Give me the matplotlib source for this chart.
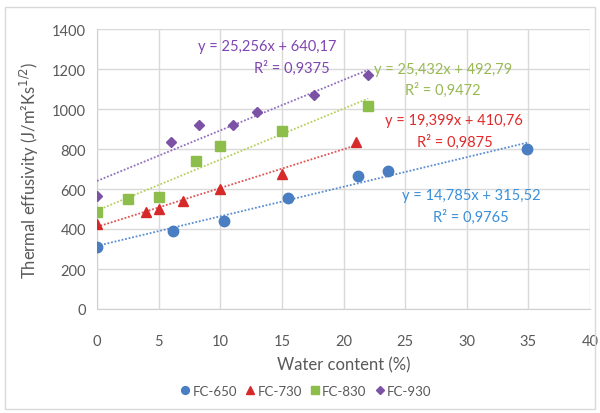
import matplotlib
matplotlib.use("Agg")
import matplotlib.pyplot as plt
import numpy as np
from matplotlib.patches import Rectangle

plt.rcParams['font.family'] = ['Lato', 'DejaVu Sans']

# Water content (%) and thermal effusivity for each sample series
fc650_x = [0, 6.2, 10.3, 15.5, 21.2, 23.6, 34.9]
fc650_y = [312, 388, 440, 555, 665, 690, 800]
fc730_x = [0, 4.0, 5.0, 7.0, 10.0, 15.0, 21.0]
fc730_y = [425, 485, 500, 540, 600, 675, 835]
fc830_x = [0, 2.5, 5.0, 8.0, 10.0, 15.0, 22.0]
fc830_y = [485, 552, 560, 742, 815, 888, 1015]
fc930_x = [0, 6.0, 8.3, 11.0, 13.0, 17.6, 22.0]
fc930_y = [565, 835, 920, 920, 985, 1068, 1172]

# Linear trendline coefficients (slope, intercept)
fits = {
    'FC-650': (14.785, 315.52),
    'FC-730': (19.399, 410.76),
    'FC-830': (25.432, 492.79),
    'FC-930': (25.256, 640.17),
}
eq_texts = {
    'FC-650': ('y = 14,785x + 315,52', 'R² = 0,9765'),
    'FC-730': ('y = 19,399x + 410,76', 'R² = 0,9875'),
    'FC-830': ('y = 25,432x + 492,79', 'R² = 0,9472'),
    'FC-930': ('y = 25,256x + 640,17', 'R² = 0,9375'),
}

series = [
    ('FC-650', fc650_x, fc650_y, 'o', '#4A7EC2', '#3A8FD8', 7.5),
    ('FC-730', fc730_x, fc730_y, '^', '#D62A2A', '#E02A2A', 7.5),
    ('FC-830', fc830_x, fc830_y, 's', '#8DBE4B', '#98B954', 7.5),
    ('FC-930', fc930_x, fc930_y, 'D', '#7B52A6', '#7F45B0', 5.5),
]
line_colors = {'FC-650': '#5B8ED0', 'FC-730': '#E05555',
               'FC-830': '#B8D060', 'FC-930': '#9070C0'}

fig = plt.figure(figsize=(6.0, 4.14), dpi=100)
ax = fig.add_axes([97/600, 1 - 310/414, 493/600, 280/414])

for name, xs, ys, mk, mcol, tcol, ms in series:
    ax.plot(xs, ys, linestyle='none', marker=mk, color=mcol, markersize=ms,
            label=name, zorder=4)
    m, b = fits[name]
    xl = np.array([0, max(xs)])
    ax.plot(xl, m * xl + b, linestyle=(0, (1, 1)), color=line_colors[name],
            linewidth=1.3, zorder=3)

# Trendline equation labels
label_pos = {
    'FC-930': (267, 47, 292, 68),
    'FC-830': (443, 70, 443, 90),
    'FC-730': (454, 121, 455, 142),
    'FC-650': (471, 196, 471, 217),
}
for name, xs, ys, mk, mcol, tcol, ms in series:
    x1, y1, x2, y2 = label_pos[name]
    l1, l2 = eq_texts[name]
    fig.text(x1/600, 1 - y1/414, l1, color=tcol, fontsize=10.5,
             ha='center', va='center')
    fig.text(x2/600, 1 - y2/414, l2, color=tcol, fontsize=10.5,
             ha='center', va='center')

ax.set_xlim(0, 40)
ax.set_ylim(0, 1400)
ax.set_xticks(np.arange(0, 41, 5))
ax.set_yticks(np.arange(0, 1401, 200))
ax.grid(True, color='#D9D9D9', linewidth=1.0)
ax.set_axisbelow(True)
for s in ['top', 'right']:
    ax.spines[s].set_visible(False)
for s in ['left', 'bottom']:
    ax.spines[s].set_color('#D0D0D0')
ax.tick_params(length=0, labelsize=10.5, labelcolor='#595959', pad=8)
ax.tick_params(axis='x', pad=18)

ax.set_xlabel('Water content (%)', fontsize=12, color='#595959', labelpad=6)
ax.set_ylabel('Thermal effusivity (J/m²Ks$^{1/2}$)', fontsize=12,
              color='#595959', labelpad=8)

leg = fig.legend(loc='center', bbox_to_anchor=(305/600, 1 - 392/414), ncol=4,
                 frameon=False, fontsize=9.5, handletextpad=0.05,
                 handlelength=1.0, columnspacing=0.5, markerscale=0.75,
                 labelcolor='#595959')

fig.patches.append(Rectangle((5/600, 4/414), 590/600, 402/414,
                             transform=fig.transFigure, fill=False,
                             edgecolor='#D9D9D9', linewidth=1.0))

fig.savefig('out.png', dpi=100, facecolor='white')
